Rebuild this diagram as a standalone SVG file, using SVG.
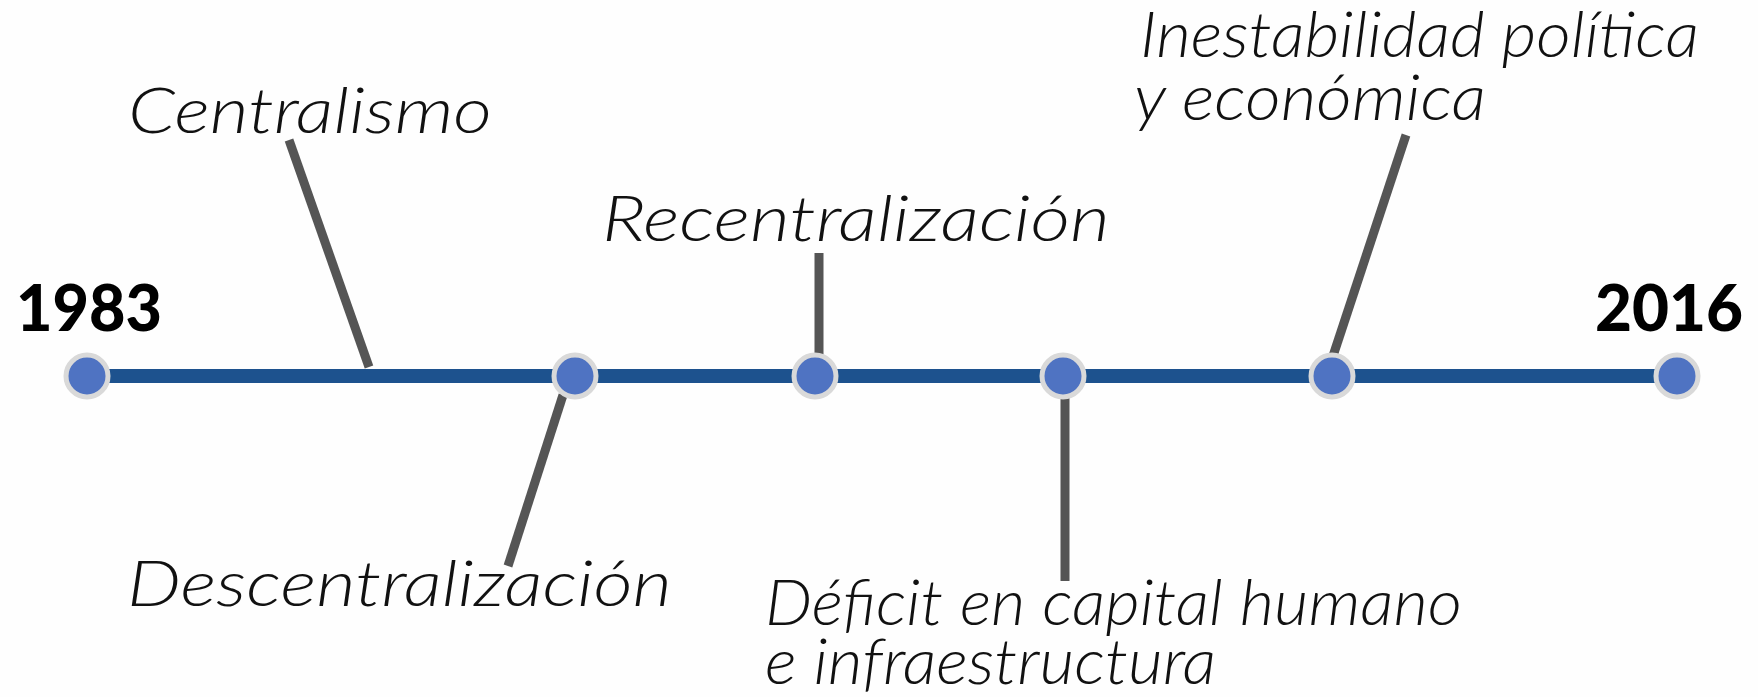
<svg xmlns="http://www.w3.org/2000/svg" width="1758" height="697" viewBox="0 0 1758 697">
<style>
.lbl{font-family:"Lato","Open Sans","Liberation Sans",sans-serif;font-style:italic;font-weight:300;font-size:63px;fill:#111}
.yr{font-family:"Lato","Liberation Sans",sans-serif;font-weight:900;font-size:64px;fill:#000}
.con{stroke:#555;stroke-width:9;stroke-linecap:butt;fill:none}
.dot{fill:#4f73c2;stroke:#d9d9d9;stroke-width:5}
</style>
<rect width="1758" height="697" fill="#fefefe"/>
<g id="connectors">
<line class="con" x1="289" y1="140" x2="369" y2="367"/>
<line class="con" x1="563" y1="395" x2="508" y2="566"/>
<line class="con" x1="819" y1="253" x2="819" y2="360"/>
<line class="con" x1="1065" y1="392" x2="1065" y2="581"/>
<line class="con" x1="1406" y1="135" x2="1333" y2="356"/>
</g>
<g id="timeline">
<line x1="87" y1="376" x2="1678" y2="376" stroke="#1d528e" stroke-width="14"/>
</g>
<g id="n1983"><circle class="dot" cx="87" cy="376" r="21"/><text class="yr" x="16" y="331" textLength="146" lengthAdjust="spacingAndGlyphs">1983</text></g>
<g id="n2"><circle class="dot" cx="575" cy="376" r="21"/></g>
<g id="n3"><circle class="dot" cx="815" cy="376" r="21"/></g>
<g id="n4"><circle class="dot" cx="1063" cy="376" r="21"/></g>
<g id="n5"><circle class="dot" cx="1332" cy="376" r="21"/></g>
<g id="n2016"><circle class="dot" cx="1677" cy="376" r="21"/><text class="yr" x="1595" y="331" textLength="148" lengthAdjust="spacingAndGlyphs">2016</text></g>
<g id="centralismo"><text class="lbl" x="128" y="133" textLength="364" lengthAdjust="spacingAndGlyphs">Centralismo</text></g>
<g id="recentralizacion"><text class="lbl" x="602" y="241" textLength="508" lengthAdjust="spacingAndGlyphs">Recentralización</text></g>
<g id="descentralizacion"><text class="lbl" x="127" y="606" textLength="545" lengthAdjust="spacingAndGlyphs">Descentralización</text></g>
<g id="deficit"><text class="lbl" x="765" y="625" textLength="697" lengthAdjust="spacingAndGlyphs">Déficit en capital humano</text><text class="lbl" x="765" y="684" textLength="451" lengthAdjust="spacingAndGlyphs">e infraestructura</text></g>
<g id="inestabilidad"><text class="lbl" x="1140" y="57" textLength="559" lengthAdjust="spacingAndGlyphs">Inestabilidad política</text><text class="lbl" x="1134" y="120" textLength="352" lengthAdjust="spacingAndGlyphs">y económica</text></g>
</svg>
